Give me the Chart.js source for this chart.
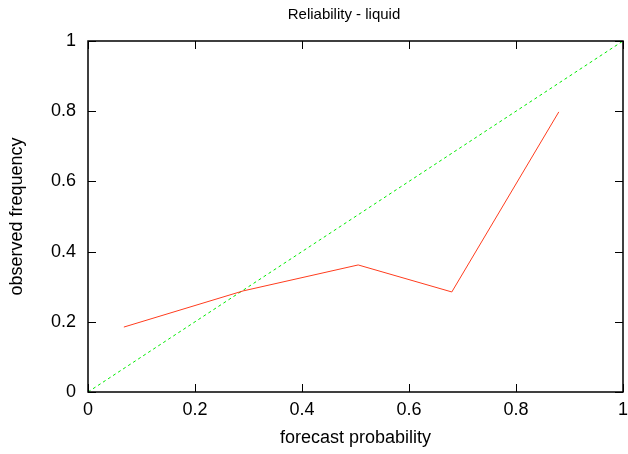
<!DOCTYPE html>
<html>
<head>
    <title>Reliability - liquid</title>
    <script src="https://cdn.jsdelivr.net/npm/chart.js@4"></script>
    <style>
        html, body { margin: 0; padding: 0; background: #fff; }
        .chart { width: 628px; height: 454px; }
    </style>
</head>
<body>
<div class="chart">
    <canvas id="reliability-chart" width="628" height="454"></canvas>
</div>
<script>
    // values
    const chartTitle = 'Reliability - liquid';
    const forecastProb = [0.067, 0.29, 0.505, 0.68, 0.88];
    const observedFreq = [0.185, 0.288, 0.362, 0.285, 0.798];
    const diagonalX = [0, 1];
    const diagonalY = [0, 1];
    const tickValues = [0, 0.2, 0.4, 0.6, 0.8, 1];

    const FONT = 'Liberation Sans, Arial, Helvetica, sans-serif';

    // gnuplot style frame with inward ticks on all four sides, plus the title
    const framePlugin = {
        id: 'frame',
        afterDatasetsDraw(chart) {
            const ctx = chart.ctx;
            const a = chart.chartArea;
            const xs = chart.scales.x, ys = chart.scales.y;
            const len = 8;
            ctx.save();
            ctx.strokeStyle = '#000';
            ctx.lineWidth = 1;
            ctx.beginPath();
            tickValues.forEach(v => {
                const px = Math.round(xs.getPixelForValue(v)) + 0.5;
                ctx.moveTo(px, a.bottom); ctx.lineTo(px, a.bottom - len);
                ctx.moveTo(px, a.top); ctx.lineTo(px, a.top + len);
                const py = Math.round(ys.getPixelForValue(v)) + 0.5;
                ctx.moveTo(a.left, py); ctx.lineTo(a.left + len, py);
                ctx.moveTo(a.right, py); ctx.lineTo(a.right - len, py);
            });
            ctx.stroke();
            ctx.lineWidth = 1.5;
            ctx.strokeRect(a.left, a.top, a.right - a.left, a.bottom - a.top);

            // title sits a bit right of the canvas centre, like the original
            ctx.fillStyle = '#000';
            ctx.font = '15px ' + FONT;
            ctx.textAlign = 'center';
            ctx.textBaseline = 'alphabetic';
            ctx.fillText(chartTitle, 344, 19);
            ctx.restore();
        }
    };

    const ctx = document.getElementById('reliability-chart').getContext('2d');
    const chart = new Chart(ctx, {
        type: 'scatter',
        data: {
            datasets: [{
                label: 'reliability',
                data: forecastProb.map((x, i) => ({x: x, y: observedFreq[i]})),
                showLine: true,
                borderColor: 'rgb(255, 60, 30)',
                borderWidth: 1,
                pointRadius: 0,
                fill: false,
                tension: 0
            }, {
                label: 'perfect',
                data: diagonalX.map((x, i) => ({x: x, y: diagonalY[i]})),
                showLine: true,
                borderColor: 'rgb(0, 235, 0)',
                borderWidth: 1,
                borderDash: [3, 3],
                pointRadius: 0,
                fill: false
            }]
        },
        options: {
            responsive: false,
            animation: false,
            layout: {
                padding: {left: 0, right: 0, top: 41, bottom: 0}
            },
            plugins: {
                legend: {display: false},
                tooltip: {enabled: false},
                title: {display: false}
            },
            scales: {
                x: {
                    type: 'linear',
                    min: 0,
                    max: 1,
                    grid: {display: false, drawTicks: false},
                    border: {display: false},
                    ticks: {
                        stepSize: 0.2,
                        color: '#000',
                        padding: 7,
                        maxRotation: 0,
                        font: {family: FONT, size: 18},
                        callback: v => String(v)
                    },
                    title: {
                        display: true,
                        text: 'forecast probability',
                        color: '#000',
                        font: {family: FONT, size: 18},
                        padding: {top: 0, bottom: 5}
                    },
                    afterFit(scale) {
                        scale.height = 62;
                        scale.paddingRight = 5;
                    }
                },
                y: {
                    type: 'linear',
                    min: 0,
                    max: 1,
                    grid: {display: false, drawTicks: false},
                    border: {display: false},
                    ticks: {
                        stepSize: 0.2,
                        color: '#000',
                        padding: 12,
                        font: {family: FONT, size: 18},
                        callback: v => String(v)
                    },
                    title: {
                        display: true,
                        text: 'observed frequency',
                        color: '#000',
                        font: {family: FONT, size: 18},
                        padding: {top: 6, bottom: 0}
                    },
                    afterFit(scale) { scale.width = 88; }
                }
            }
        },
        plugins: [framePlugin]
    });
</script>
</body>
</html>
